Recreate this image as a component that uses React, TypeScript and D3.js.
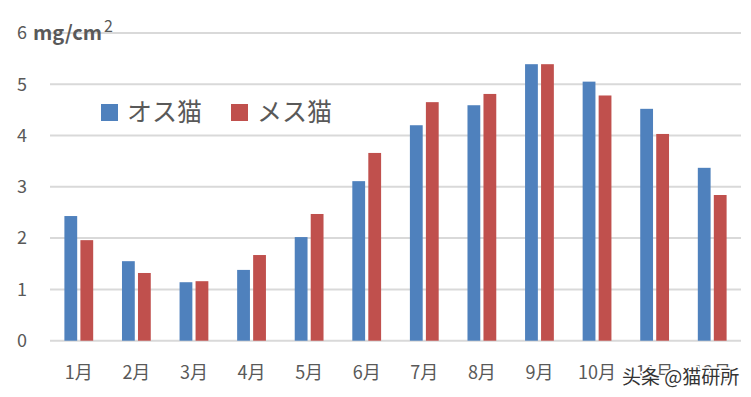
import React from "react";
import * as d3 from "d3";

const months = ["1月", "2月", "3月", "4月", "5月", "6月", "7月", "8月", "9月", "10月", "11月", "12月"];
const maleValues = [2.43, 1.55, 1.14, 1.38, 2.02, 3.11, 4.2, 4.59, 5.39, 5.05, 4.52, 3.37];
const femaleValues = [1.96, 1.32, 1.16, 1.67, 2.47, 3.66, 4.65, 4.81, 5.39, 4.78, 4.03, 2.84];
const seriesNames = ["オス猫", "メス猫"];
const yTicks = [0, 1, 2, 3, 4, 5, 6];

const colors = ["#4f81bd", "#c0504d"];
const font = "'Noto Sans CJK JP', 'Noto Sans', sans-serif";

export default function App() {
  const width = 751;
  const height = 397;
  const left = 50;
  const right = 741;

  const x = d3.scaleBand<string>().domain(months).range([left, right]).paddingInner(0.5).paddingOuter(0.25);
  const inner = d3.scaleBand<number>().domain([0, 1]).range([0, x.bandwidth()]).paddingInner(0.2);
  const y = d3.scaleLinear().domain([0, 6]).range([340.7, 32.9]);

  const series = [maleValues, femaleValues];

  return (
    <svg width={width} height={height} style={{ position: "absolute", left: 0, top: 0, background: "#fff" }}>
      {/* grid */}
      {yTicks.map((t) => (
        <line key={t} x1={left} x2={right} y1={y(t)} y2={y(t)} stroke="#d9d9d9" strokeWidth={2} />
      ))}
      {/* y labels */}
      {yTicks.map((t) => (
        <text key={t} x={22} y={y(t)} dy="0.35em" textAnchor="middle" fontFamily={font} fontSize={18} fill="#595959">
          {t}
        </text>
      ))}
      <text x={33} y={y(6)} dy="0.35em" fontFamily={font} fontSize={20} fontWeight="bold" fill="#595959">
        mg/cm
        <tspan dx={2} dy="-0.5em" fontSize={16} fontWeight="normal">2</tspan>
      </text>
      {/* bars */}
      {series.map((vals, si) =>
        vals.map((v, i) => (
          <rect
            key={si + "-" + i}
            x={(x(months[i]) ?? 0) + (inner(si) ?? 0)}
            y={y(v)}
            width={inner.bandwidth()}
            height={y(0) - y(v)}
            fill={colors[si]}
          />
        ))
      )}
      {/* x labels */}
      {months.map((m) => (
        <text key={m} x={(x(m) ?? 0) + x.bandwidth() / 2} y={373} dy="0.35em" textAnchor="middle" fontFamily={font} fontSize={18} fill="#595959">
          {m}
        </text>
      ))}
      {/* legend */}
      {seriesNames.map((name, i) => (
        <g key={name} transform={`translate(${101 + i * 130},104)`}>
          <rect x={0} y={0} width={17} height={17} fill={colors[i]} />
          <text x={26} y={8.5} dy="0.35em" fontFamily={font} fontSize={25} fill="#595959">
            {name}
          </text>
        </g>
      ))}
      {/* watermark */}
      <text x={622} y={377} dy="0.35em" fontFamily={font} fontSize={19} fill="#333" stroke="#fff" strokeWidth={3} paintOrder="stroke">
        头条 @猫研所
      </text>
    </svg>
  );
}
